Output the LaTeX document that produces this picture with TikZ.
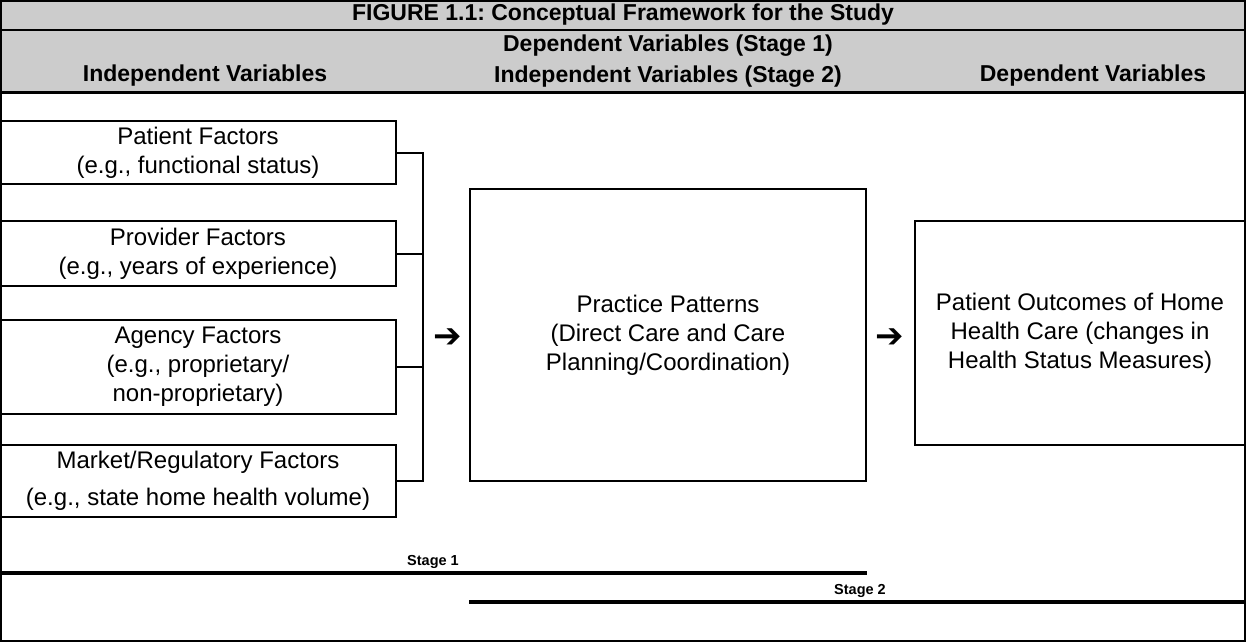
\documentclass[tikz,border=0pt]{standalone}
\usepackage{fontspec}
\setmainfont{Liberation Sans}
\newfontfamily\symfont{DejaVu Sans}
\usepackage{tikz}
\usetikzlibrary{positioning}
\definecolor{headgray}{RGB}{204,204,204}
\frenchspacing

\begin{document}
\begin{tikzpicture}[x=1pt,y=-1pt,
  txt/.style={font=\fontsize{24}{29}\selectfont, align=center, inner sep=0pt},
  head/.style={txt, font=\fontsize{23}{31}\selectfont\bfseries},
  factor/.style={txt, draw, line width=2pt, minimum width=396pt},
  arrowsym/.style={inner sep=0pt, font=\fontsize{34}{34}\selectfont\symfont},
  stagelbl/.style={inner sep=0pt, font=\fontsize{14.5}{17}\selectfont\bfseries}]
\useasboundingbox (0,0) rectangle (1246,642);

% Header
\fill[headgray] (0,0) rectangle (1246,92);
\draw[line width=2.5pt] (0,30) -- (1246,30);
\draw[line width=3pt] (0,92) -- (1246,92);
\node[head] (title) at (623,15) {FIGURE 1.1: Conceptual Framework for the Study};
\node[head] (hleft) at (205,76) {Independent Variables};
\node[head] (hmid) at (668,61) {Dependent Variables (Stage 1)\\Independent Variables (Stage 2)};
\node[head] (hright) at (1093,76) {Dependent Variables};

% Factors
\node[factor, minimum height=63pt] (patient) at (198,152.5) {Patient Factors\\(e.g., functional status)};
\node[factor, minimum height=65pt] (provider) at (198,253.5) {Provider Factors\\(e.g., years of experience)};
\node[factor, minimum height=94pt] (agency) at (198,367) {Agency Factors\\(e.g., proprietary/\\non-proprietary)};
\node[factor, minimum height=72pt] (market) at (198,481) {Market/Regulatory Factors\\[8pt](e.g., state home health volume)};

% bracket
\coordinate (bartop) at (423,152.5);
\coordinate (barbot) at (423,481);
\draw[line width=2pt] (patient.east) -- (bartop) -- (barbot) -- (market.east);
\draw[line width=2pt] (provider.east) -- (provider.east -| bartop);
\draw[line width=2pt] (agency.east) -- (agency.east -| bartop);

% Stage 1 / Stage 2
\node[arrowsym] (arr1) at (448,338) {➔};
\node[txt, draw, line width=2pt, minimum width=396pt, minimum height=292pt] (practice) at (668,335)
  {Practice Patterns\\(Direct Care and Care\\Planning/Coordination)};
\node[arrowsym] (arr2) at (890,338) {➔};
\node[txt, draw, line width=2pt, minimum width=330pt, minimum height=224pt] (outcome) at (1080,333)
  {Patient Outcomes of Home\\Health Care (changes in\\Health Status Measures)};

\draw[line width=3.5pt] (0,573) -- (867,573);
\node[stagelbl] (s1) at (433,562) {Stage 1};
\draw[line width=3.5pt] (469,602) -- (1246,602);
\node[stagelbl] (s2) at (860,591) {Stage 2};

% frame
\draw[line width=2pt] (1,1) rectangle (1245,641);
\end{tikzpicture}
\end{document}
